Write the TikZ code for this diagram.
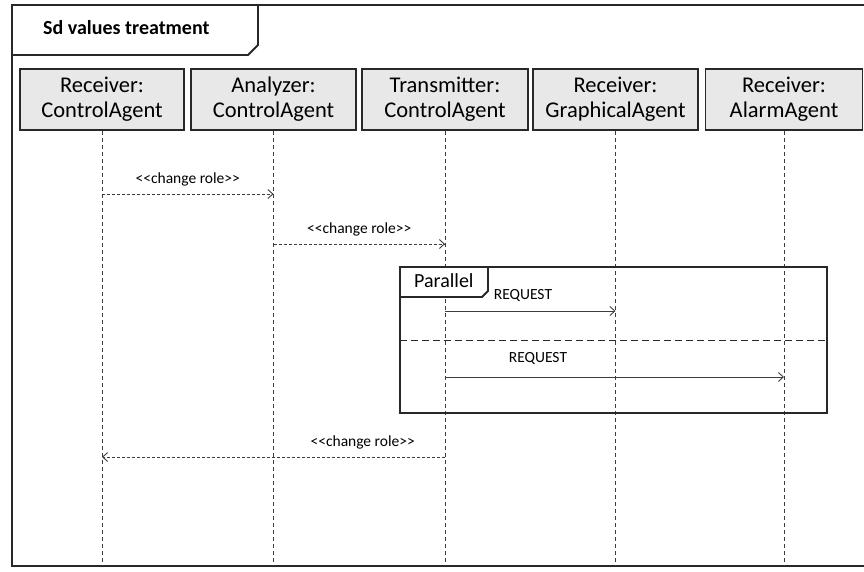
\documentclass[tikz,border=0pt]{standalone}
\usepackage{fontspec}
\setmainfont{Carlito}
\usetikzlibrary{arrows.meta,positioning,calc}
\definecolor{framecol}{RGB}{40,40,40}
\definecolor{headcol}{RGB}{232,232,232}
\definecolor{linecol}{RGB}{60,60,60}

\begin{document}
\begin{tikzpicture}[
    x=1pt, y=-1pt,
    >={Straight Barb[length=5pt,width=9pt]},
    head/.style={rectangle, draw=framecol, fill=headcol, line width=1.8pt, minimum height=61pt, align=center, font=\fontsize{22.5}{25}\selectfont, inner sep=0pt},
    lifeline/.style={linecol, dashed, dash pattern=on 4pt off 3pt, line width=0.8pt},
    msg/.style={->, linecol, line width=0.9pt},
    rolemsg/.style={msg, dash pattern=on 3pt off 2pt},
    lbl/.style={font=\fontsize{15.5}{18}\selectfont, text=black},
    frm/.style={draw=framecol, line width=1.8pt},
]
\useasboundingbox (0,0) rectangle (864,571);

% outer frame and title tag
\draw[frm] (864,5) -- (12,5) -- (12,566) -- (864,566);
\draw[frm, fill=white] (12,5) -- (258,5) -- (258,45) -- (248,55) -- (12,55) -- cycle;
\node[font=\fontsize{20}{24}\selectfont\bfseries, anchor=west, inner sep=0pt] (title) at (43,28) {Sd values treatment};

% lifeline heads
\node[head, minimum width=164pt] (rcv) at (102,99.5) {Receiver:\\ControlAgent};
\node[head, minimum width=165pt] (ana) at (273.5,99.5) {Analyzer:\\ControlAgent};
\node[head, minimum width=166pt] (trn) at (445,99.5) {Transmitter:\\ControlAgent};
\node[head, minimum width=165pt] (gra) at (615.5,99.5) {Receiver:\\GraphicalAgent};
\node[head, minimum width=157pt] (alm) at (784,99.5) {Receiver:\\AlarmAgent};

% lifelines
\foreach \n in {rcv,ana,trn,gra,alm}
  \draw[lifeline] (\n.south) -- (\n.south |- 0,566);

% parallel fragment
\draw[frm] (400,267) rectangle (827,413);
\draw[frm, fill=white] (400,267) -- (488,267) -- (488,291) -- (482,297) -- (400,297) -- cycle;
\node[font=\fontsize{20}{24}\selectfont, anchor=west, inner sep=0pt] (par) at (414,281) {Parallel};
\draw[framecol, line width=1pt, dash pattern=on 7pt off 4pt] (400,340) -- (827,340);

% message points
\coordinate (m1a) at (rcv.south |- 0,194);
\coordinate (m1b) at (ana.south |- 0,194);
\coordinate (m2a) at (ana.south |- 0,244);
\coordinate (m2b) at (trn.south |- 0,244);
\coordinate (r1a) at (trn.south |- 0,311);
\coordinate (r1b) at (gra.south |- 0,311);
\coordinate (r2a) at (trn.south |- 0,377);
\coordinate (r2b) at (alm.south |- 0,377);
\coordinate (m3a) at (trn.south |- 0,457);
\coordinate (m3b) at (rcv.south |- 0,457);

% messages
\draw[rolemsg] (m1a) -- node[lbl, above=4pt] {<{}<change role>{}>} (m1b);
\draw[rolemsg] (m2a) -- node[lbl, above=4pt] {<{}<change role>{}>} (m2b);
\draw[msg] (r1a) -- (r1b);
\node[lbl] (req1) at (523,295) {REQUEST};
\draw[msg] (r2a) -- (r2b);
\node[lbl] (req2) at (538,358) {REQUEST};
\draw[rolemsg] (m3a) -- node[lbl, above=4pt, pos=0.24] {<{}<change role>{}>} (m3b);
\end{tikzpicture}
\end{document}
